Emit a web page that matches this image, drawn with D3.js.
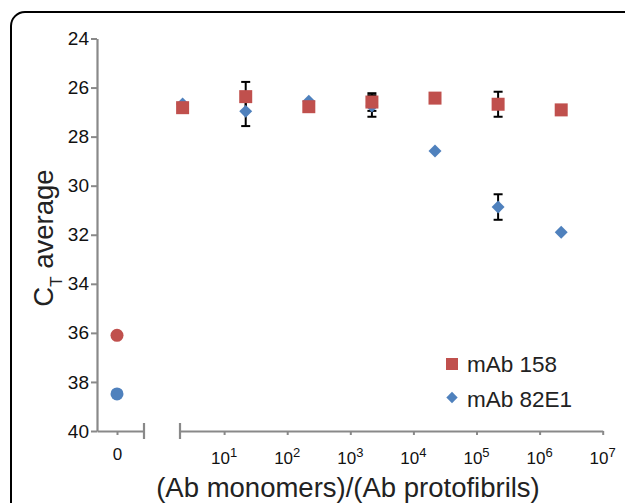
<!DOCTYPE html>
<html>
<head>
<meta charset="utf-8">
<script src="https://cdnjs.cloudflare.com/ajax/libs/d3/7.8.5/d3.min.js"></script>
<style>
  body { margin: 0; background: #fff; }
  text { font-family: "Liberation Sans", Arial, sans-serif; }
</style>
</head>
<body>
<svg width="625" height="503"></svg>
<script>
// ratios of monomers to protofibrils (log part of the x axis)
var ratios = [2.2, 22, 220, 2200, 22000, 220000, 2200000];
var mab158 = [26.82, 26.37, 26.78, 26.59, 26.43, 26.68, 26.91];
var mab158Err = [0, 0.6, 0, 0.36, 0, 0.51, 0];
var mab82e1 = [26.67, 26.97, 26.56, 26.75, 28.59, 30.87, 31.9];
var mab82e1Err = [0, 0.6, 0, 0.44, 0, 0.52, 0];
// values with no protofibrils ("0" category)
var zeroCategory = [0];
var mab158Zero = [36.1];
var mab82e1Zero = [38.49];
var yTicks = [24, 26, 28, 30, 32, 34, 36, 38, 40];
var xTicks = [10, 100, 1000, 10000, 100000, 1000000, 10000000];
var seriesNames = ["mAb 158", "mAb 82E1"];
var red = "#C0504D";
var blue = "#4F81BD";
var axisColor = "#898989";

var svg = d3.select("svg");

svg.append("rect")
.attr("x", 11)
.attr("y", 12)
.attr("width", 660)
.attr("height", 540)
.attr("rx", 14)
.attr("fill", "none")
.attr("stroke", "#000")
.attr("stroke-width", 2);

var yScale = d3.scaleLinear().domain([24, 40]).range([38.5, 431]);
var x0 = d3.scaleLinear().domain([-1, 1.35]).range([97, 144]);
var xLog = d3.scaleLog().domain([2, 1e7]).range([180, 602.7]);
var axisY = yScale(40);

// y axis
var gy = svg.append("g")
.attr("transform", "translate(97,0)")
.call(d3.axisLeft(yScale).tickValues(yTicks).tickSize(6).tickSizeOuter(0).tickPadding(2));

gy.select(".domain").attr("stroke", axisColor).attr("stroke-width", 2.2);
gy.selectAll(".tick line").attr("stroke", axisColor).attr("stroke-width", 2);
gy.selectAll(".tick text")
.attr("font-size", 19)
.attr("fill", "#111")
.attr("font-family", "Liberation Sans, Arial, sans-serif");

// x axis, part for zero
var gx0 = svg.append("g")
.attr("transform", "translate(0," + axisY + ")")
.call(d3.axisBottom(x0).tickValues(zeroCategory).tickFormat(d3.format("d"))
  .tickSize(4).tickSizeOuter(0).tickPadding(13));

gx0.select(".domain").attr("stroke", axisColor).attr("stroke-width", 2.2);
gx0.selectAll(".tick line").attr("stroke", axisColor).attr("stroke-width", 2);
gx0.selectAll(".tick text")
.attr("font-size", 17)
.attr("fill", "#111")
.attr("font-family", "Liberation Sans, Arial, sans-serif");

// x axis, log part
var gx = svg.append("g")
.attr("transform", "translate(0," + axisY + ")")
.call(d3.axisBottom(xLog).tickValues(xTicks).tickSize(4).tickSizeOuter(0).tickFormat(""));

gx.select(".domain").attr("stroke", axisColor).attr("stroke-width", 2.2);
gx.selectAll(".tick line").attr("stroke", axisColor).attr("stroke-width", 2);

var labels = gx.selectAll(".powlabel")
.data(xTicks)
.enter()
.append("text")
.attr("class", "powlabel")
.attr("x", function(d) { return xLog(d); })
.attr("y", 32.5)
.attr("text-anchor", "middle")
.attr("fill", "#111")
.attr("font-size", 17);

labels.append("tspan").text("10");
labels.append("tspan")
.attr("font-size", 13)
.attr("dy", -7)
.text(function(d) { return Math.round(Math.log10(d)); });

// break marks
svg.selectAll(".brk")
.data([x0.range()[1], xLog.range()[0]])
.enter()
.append("line")
.attr("class", "brk")
.attr("x1", function(d) { return d; })
.attr("x2", function(d) { return d; })
.attr("y1", axisY - 8)
.attr("y2", axisY + 8)
.attr("stroke", axisColor)
.attr("stroke-width", 2.2);

// axis titles
svg.append("text")
.attr("x", 348)
.attr("y", 497)
.attr("text-anchor", "middle")
.attr("font-size", 27.5)
.attr("fill", "#222")
.text("(Ab monomers)/(Ab protofibrils)");

var yt = svg.append("text")
.attr("transform", "translate(53,238) rotate(-90)")
.attr("text-anchor", "middle")
.attr("font-size", 27.5)
.attr("fill", "#222");
yt.append("tspan").text("C");
yt.append("tspan").attr("font-size", 17).attr("dy", 9).text("T");
yt.append("tspan").attr("dy", -9).text(" average");

// points
var pts = ratios.map(function(r, i) {
  return {x: r, a: mab158[i], ae: mab158Err[i], b: mab82e1[i], be: mab82e1Err[i]};
});

var errs = [];
pts.forEach(function(p) {
  if (p.ae > 0) errs.push({x: p.x, v: p.a, e: p.ae});
  if (p.be > 0) errs.push({x: p.x, v: p.b, e: p.be});
});

var eg = svg.append("g");
errs.forEach(function(d) {
  var cx = xLog(d.x);
  var y1 = yScale(d.v - d.e);
  var y2 = yScale(d.v + d.e);
  eg.append("line").attr("x1", cx).attr("x2", cx).attr("y1", y1).attr("y2", y2)
  .attr("stroke", "#000").attr("stroke-width", 2);
  [y1, y2].forEach(function(yy) {
    eg.append("line").attr("x1", cx - 4.5).attr("x2", cx + 4.5).attr("y1", yy).attr("y2", yy)
    .attr("stroke", "#000").attr("stroke-width", 2);
  });
});

var diamond = d3.symbol().type(d3.symbolSquare).size(84);
var square = d3.symbol().type(d3.symbolSquare).size(169);

svg.selectAll(".dia")
.data(pts)
.enter()
.append("path")
.attr("class", "dia")
.attr("d", diamond)
.attr("fill", blue)
.attr("transform", function(d) { return "translate(" + xLog(d.x) + "," + yScale(d.b) + ") rotate(45)"; });

svg.selectAll(".sq")
.data(pts)
.enter()
.append("path")
.attr("class", "sq")
.attr("d", square)
.attr("fill", red)
.attr("transform", function(d) { return "translate(" + xLog(d.x) + "," + yScale(d.a) + ")"; });

svg.selectAll(".zr")
.data(zeroCategory)
.enter()
.append("circle")
.attr("cx", function(d) { return x0(d); })
.attr("cy", function(d, i) { return yScale(mab158Zero[i]); })
.attr("r", 6.5)
.attr("fill", red);

svg.selectAll(".zb")
.data(zeroCategory)
.enter()
.append("circle")
.attr("cx", function(d) { return x0(d); })
.attr("cy", function(d, i) { return yScale(mab82e1Zero[i]); })
.attr("r", 6.5)
.attr("fill", blue);

// legend
var lg = svg.append("g").attr("transform", "translate(452,364)");
lg.append("path").attr("d", d3.symbol().type(d3.symbolSquare).size(144)).attr("fill", red);
lg.append("path").attr("d", d3.symbol().type(d3.symbolSquare).size(64))
.attr("transform", "translate(0,33.5) rotate(45)").attr("fill", blue);
lg.selectAll(".lt")
.data(seriesNames)
.enter()
.append("text")
.attr("x", 15)
.attr("y", function(d, i) { return 7.5 + i * 35; })
.attr("font-size", 22.5)
.attr("fill", "#222")
.text(function(d) { return d; });
</script>
</body>
</html>
